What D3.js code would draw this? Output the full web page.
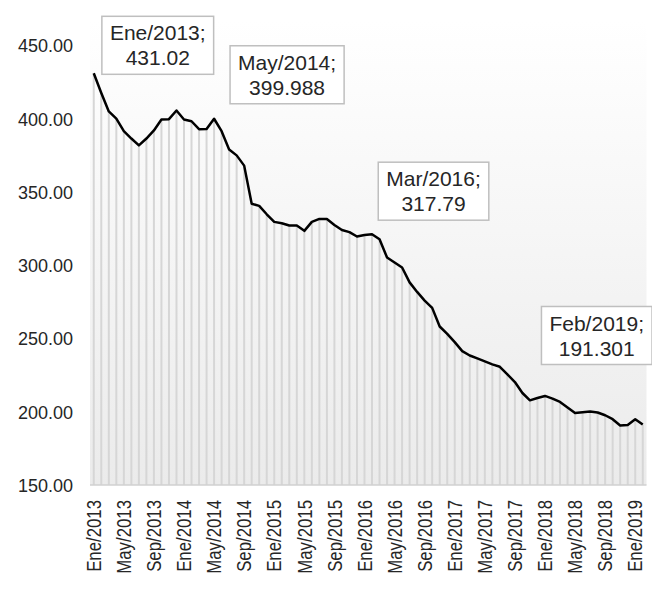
<!DOCTYPE html>
<html lang="es">
<head>
<meta charset="utf-8">
<title>Serie mensual 2013-2019</title>
<script src="https://cdn.jsdelivr.net/npm/d3@7"></script>
<style>
  body { margin: 0; background: #fff; }
  svg text { font-family: "Liberation Sans", Arial, sans-serif; fill: #262626; }
</style>
</head>
<body>
<script>
// month names used in the category labels
var months = ["Ene","Feb","Mar","Abr","May","Jun","Jul","Ago","Sep","Oct","Nov","Dic"];

// monthly values, Ene/2013 .. Feb/2019
var values = [
  431.02, 417.6, 405.0, 400.1, 391.5, 386.5, 381.8, 386.5, 392.0, 399.5, 399.7, 405.6,
  399.5, 398.3, 392.9, 393.0, 399.988, 391.5, 379.0, 375.0, 368.0, 342.0, 340.5, 334.8,
  329.6, 328.7, 327.1, 327.1, 323.5, 329.6, 331.6, 331.6, 327.5, 324.1, 322.6, 319.6,
  320.7, 321.2, 317.79, 305.3, 301.9, 298.5, 288.3, 281.8, 275.9, 270.9, 258.2, 253.2,
  247.5, 241.4, 238.4, 236.4, 234.4, 232.3, 230.7, 225.5, 220.3, 212.8, 207.8, 209.4,
  210.8, 209.0, 206.7, 202.9, 199.2, 199.7, 200.1, 199.5, 197.6, 194.9, 190.6, 191.0,
  194.9, 191.301
];

var categories = [];
for (var i = 0; i < values.length; i++) {
  categories.push(months[i % 12] + "/" + (2013 + Math.floor(i / 12)));
}

var xTickLabels = ["Ene/2013","May/2013","Sep/2013","Ene/2014","May/2014","Sep/2014",
  "Ene/2015","May/2015","Sep/2015","Ene/2016","May/2016","Sep/2016","Ene/2017",
  "May/2017","Sep/2017","Ene/2018","May/2018","Sep/2018","Ene/2019"];
var yTicks = [150, 200, 250, 300, 350, 400, 450];

// callouts: which category and what text
var calloutCats = ["Ene/2013", "May/2014", "Mar/2016", "Feb/2019"];
var calloutText = [["Ene/2013;", "431.02"], ["May/2014;", "399.988"],
                   ["Mar/2016;", "317.79"], ["Feb/2019;", "191.301"]];
// offset of the box centre from its point (layout only)
var calloutOffset = [[64, -28], [73, -44], [54, -48], [-46, -89]];

var w = 652, h = 589;
var plotLeft = 90, plotRight = 646.5, plotTop = 45.5, plotBottom = 485;

var svg = d3.select("body").append("svg")
  .attr("width", w)
  .attr("height", h);

var x = d3.scaleBand().domain(categories).range([plotLeft, plotRight]);
var y = d3.scaleLinear().domain([150, 450]).range([plotBottom, plotTop]);
var cx = function(c) { return x(c) + x.bandwidth() / 2; };

// plot background gradient
var grad = svg.append("defs").append("linearGradient")
  .attr("id", "bg").attr("x1", 0).attr("y1", 0).attr("x2", 0).attr("y2", 1);
grad.append("stop").attr("offset", "0%").attr("stop-color", "#ffffff");
grad.append("stop").attr("offset", "100%").attr("stop-color", "#ebebeb");

svg.append("rect")
  .attr("x", plotLeft).attr("y", 20)
  .attr("width", plotRight - plotLeft).attr("height", plotBottom - 20)
  .attr("fill", "url(#bg)");

// drop lines
svg.append("g").selectAll("line")
  .data(values)
  .enter()
  .append("line")
  .attr("x1", function(d, i) { return cx(categories[i]); })
  .attr("x2", function(d, i) { return cx(categories[i]); })
  .attr("y1", function(d) { return y(d); })
  .attr("y2", plotBottom)
  .attr("stroke", "#d6d6d6")
  .attr("stroke-width", 2);

// baseline
svg.append("line")
  .attr("x1", plotLeft).attr("x2", plotRight)
  .attr("y1", plotBottom).attr("y2", plotBottom)
  .attr("stroke", "#d0d0d0")
  .attr("stroke-width", 1.5);

// y axis
var yAxis = svg.append("g")
  .attr("transform", "translate(" + plotLeft + ",0)")
  .call(d3.axisLeft(y).tickValues(yTicks).tickFormat(d3.format(".2f")).tickSize(0).tickPadding(17));
yAxis.select(".domain").remove();
yAxis.selectAll("text")
  .style("font-size", "18px")
  .attr("dy", "0.36em");

// x axis - labels look condensed in the original, so squeeze along the text
var squeeze = 0.84;
var xAxis = svg.append("g")
  .attr("transform", "translate(0," + plotBottom + ")")
  .call(d3.axisBottom(x).tickValues(xTickLabels).tickSize(0));
xAxis.select(".domain").remove();
xAxis.selectAll("text")
  .style("font-size", "20px")
  .attr("transform", "rotate(-90) scale(" + squeeze + ",1)")
  .attr("text-anchor", "end")
  .attr("x", -15 / squeeze)
  .attr("y", 0)
  .attr("dy", "0.36em");

// the line
var line = d3.line()
  .x(function(d, i) { return cx(categories[i]); })
  .y(function(d) { return y(d); });

svg.append("path")
  .datum(values)
  .attr("d", line)
  .attr("fill", "none")
  .attr("stroke", "#000")
  .attr("stroke-width", 2.5)
  .attr("stroke-linejoin", "round");

// callout boxes
calloutCats.forEach(function(c, k) {
  var i = categories.indexOf(c);
  var px = cx(c), py = y(values[i]);
  var bx = px + calloutOffset[k][0], by = py + calloutOffset[k][1];
  var g = svg.append("g");
  var rect = g.append("rect");
  var t = g.append("text")
    .attr("text-anchor", "middle")
    .style("font-size", "21px");
  calloutText[k].forEach(function(s, j) {
    t.append("tspan")
      .attr("x", bx)
      .attr("y", by + (j === 0 ? -12.5 : 12.5))
      .attr("dy", "0.36em")
      .text(s);
  });
  var tw = t.node().getBBox().width;
  rect.attr("x", bx - tw / 2 - 8)
    .attr("y", by - 29)
    .attr("width", tw + 16)
    .attr("height", 58)
    .attr("fill", "#fff")
    .attr("stroke", "#bfbfbf")
    .attr("stroke-width", 1.5);
});
</script>
</body>
</html>
